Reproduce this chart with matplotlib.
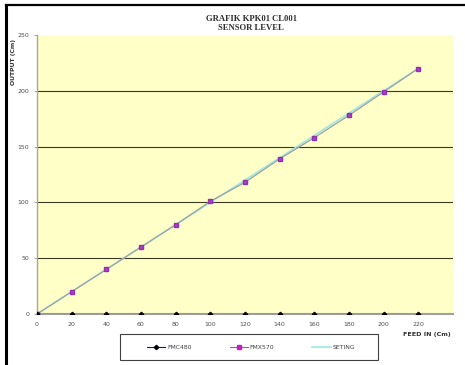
import matplotlib
matplotlib.use("Agg")
import matplotlib.pyplot as plt
from matplotlib.lines import Line2D
from matplotlib.patches import Rectangle

feed_in = [0, 20, 40, 60, 80, 100, 120, 140, 160, 180, 200, 220]
fmc480 = [0, 0, 0, 0, 0, 0, 0, 0, 0, 0, 0, 0]
fmx570 = [0, 20, 40, 60, 80, 101, 118, 139, 158, 178, 199, 220]
seting = [0, 20, 40, 60, 80, 100, 120, 140, 160, 180, 200, 220]
y_ticks = [0, 50, 100, 150, 200, 250]

fig = plt.figure(figsize=(4.65, 3.65), dpi=100)
fig.patch.set_facecolor("white")
ax = fig.add_axes([0.0796, 0.1397, 0.8944, 0.7643])
ax.set_facecolor("#FFFFC8")

ax.plot(feed_in, seting, color="#9EE6E6", lw=1.2, zorder=3)
ax.plot(feed_in, fmx570, color="#A0A0A0", lw=0.9, marker="s", ms=3.2,
        mfc="#A840C8", mec="#9030B0", zorder=4)
ax.plot(feed_in, fmc480, color="#1A1A60", lw=0.8, marker="D", ms=2.2,
        mfc="black", mec="black", zorder=5)

ax.set_xlim(0, 240)
ax.set_ylim(0, 250)
ax.set_xticks(feed_in)
ax.set_yticks(y_ticks)
ax.tick_params(labelsize=4.5, labelcolor="#505050", length=2, width=0.5,
               colors="#808080")
ax.tick_params(axis="x", length=0, pad=6)
for yv in y_ticks[1:-1]:
    ax.axhline(yv, color="#3A3A20", lw=0.8, zorder=1)
for s in ["top", "right"]:
    ax.spines[s].set_visible(False)
ax.spines["left"].set_color("#A8A898")
ax.spines["left"].set_linewidth(1.0)
ax.spines["bottom"].set_color("#A0A0A0")
ax.spines["bottom"].set_linewidth(1.5)

fig.text(0.54, 0.936, "GRAFIK KPK01 CL001\nSENSOR LEVEL", ha="center", va="center",
         family="Liberation Serif", fontweight="bold", fontsize=6.2,
         color="#303030", linespacing=1.15)
fig.text(0.028, 0.83, "OUTPUT (Cm)", rotation=90, ha="center", va="center",
         fontsize=4.4, fontweight="bold", color="#303030")
fig.text(0.918, 0.083, "FEED IN (Cm)", ha="center", va="center",
         fontsize=4.6, fontweight="bold", color="#303030")

handles = [
    Line2D([], [], color="#1A1A60", lw=0.8, marker="D", ms=2.2, mfc="black", mec="black"),
    Line2D([], [], color="#C040C0", lw=0.8, marker="s", ms=3, mfc="#C020C0", mec="#C020C0"),
    Line2D([], [], color="#9EE6E6", lw=1.2),
]
leg = fig.legend(handles, ["FMC480", "FMX570", "SETING"], loc="center",
                 bbox_to_anchor=(0.54, 0.049), ncol=3, fontsize=4.4,
                 frameon=False, handlelength=3.0,
                 columnspacing=6.2, handletextpad=0.3, borderaxespad=0)
for t in leg.get_texts():
    t.set_color("#404040")
fig.add_artist(Rectangle((0.258, 0.0137), 0.555, 0.0713, transform=fig.transFigure,
                         fill=False, edgecolor="#404040", lw=0.8))

fig.add_artist(Line2D([0.013, 0.013], [0.0, 0.986], color="black", lw=2.2,
                      transform=fig.transFigure))
fig.add_artist(Line2D([0.013, 1.0], [0.986, 0.986], color="black", lw=1.6,
                      transform=fig.transFigure))

fig.savefig("out.png", dpi=100, facecolor="white")
